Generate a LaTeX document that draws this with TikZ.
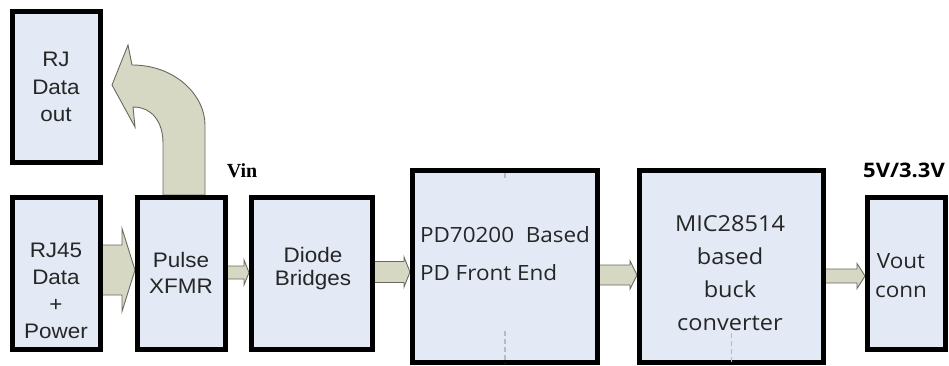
\documentclass[tikz,border=0pt]{standalone}
\usepackage{fontspec}
\usetikzlibrary{calc,backgrounds}
\newfontfamily\fA{Liberation Sans}[FakeStretch=1.07]
\newfontfamily\fB{Open Sans}[FakeStretch=1.07]
\newfontfamily\fC{Open Sans}[FakeStretch=1.1]
\newfontfamily\fT{Liberation Serif}
\definecolor{boxfill}{RGB}{227,234,245}
\definecolor{arrowfill}{RGB}{214,216,196}
\definecolor{arrowline}{RGB}{105,105,95}
\definecolor{ghostline}{RGB}{185,185,190}
\tikzset{
  blockbox/.style={draw=black, line width=5pt, fill=boxfill, inner sep=0pt, outer sep=0pt},
  flowarrow/.style={fill=arrowfill, draw=arrowline, line width=0.9pt, line join=miter},
  lbl/.style={inner sep=0pt, outer sep=0pt, text=black!85},
  ghost/.style={draw=ghostline, line width=1.2pt, dash pattern=on 5pt off 3pt},
}
\newcommand\blockarrow[6]{% from, to, y, half body, half head, head length
  \path (#1.east |- 0,#3) coordinate (ba-s) (#2.west |- 0,#3) coordinate (ba-t);
  \draw[flowarrow] ($(ba-s)+(0,-#4)$) -- ($(ba-t)+(-2.5-#6,-#4)$) -- ($(ba-t)+(-2.5-#6,-#5)$)
    -- ($(ba-t)+(-2.5,0)$) -- ($(ba-t)+(-2.5-#6,#5)$) -- ($(ba-t)+(-2.5-#6,#4)$)
    -- ($(ba-s)+(0,#4)$) -- cycle;}
\begin{document}
\begin{tikzpicture}[x=1pt,y=-1pt]
\useasboundingbox (0,0) rectangle (949,366);

% boxes
\node[blockbox, minimum width=88pt, minimum height=151pt] (rjout) at (56.5,87) {};
\node[blockbox, minimum width=88pt, minimum height=152pt] (rj45) at (56.5,273.5) {};
\node[blockbox, minimum width=88pt, minimum height=152pt] (pulse) at (181.5,273.5) {};
\node[blockbox, minimum width=121pt, minimum height=152pt] (diode) at (312,273.5) {};
\node[blockbox, minimum width=185pt, minimum height=192pt] (pd) at (505,266.5) {};
\node[blockbox, minimum width=184pt, minimum height=192pt] (mic) at (731.5,266.5) {};
\node[blockbox, minimum width=78pt, minimum height=152pt] (vout) at (906.5,273.5) {};

% texts (base = baseline of last line)
\node[lbl, anchor=base, align=center, font={\fA\fontsize{21}{27.5}\selectfont}] (trjout) at (56,122) {RJ\\Data\\out};
\node[lbl, anchor=base, align=center, font={\fA\fontsize{21}{27}\selectfont}] (trj45) at (56,338) {RJ45\\Data\\+\\Power};
\node[lbl, anchor=base, align=center, font={\fA\fontsize{21}{26}\selectfont}] (tpulse) at (181,293) {Pulse\\XFMR};
\node[lbl, anchor=base, align=center, font={\fA\fontsize{21}{23}\selectfont}] (tdiode) at (313,285) {Diode\\Bridges};
\node[lbl, anchor=base west, align=left, font={\fB\fontsize{21}{38}\selectfont}] (tpd) at (420,280) {PD70200\ \ Based\\PD Front End};
\node[lbl, anchor=base, align=center, font={\fB\fontsize{22}{32.7}\selectfont}] (tmic) at (730,330) {MIC28514\\based\\buck\\converter};
\node[lbl, anchor=base, align=center, font={\fB\fontsize{21}{29}\selectfont}] (tvout) at (901,297) {Vout\\conn};

\node[lbl, anchor=base, font={\fT\bfseries\fontsize{20}{24}\selectfont}, text=black] (vin) at (242,178) {Vin};
\node[lbl, anchor=base, font={\fC\bfseries\fontsize{20}{24}\selectfont}, text=black] (vo) at (904,178) {5V/3.3V};

% faint dashed marks
\draw[ghost] ($(pd.south)+(0,-32)$) -- (pd.south);
\draw[ghost] ($(pd.north)+(0,2)$) -- ($(pd.north)+(0,10)$);
\draw[ghost] ($(mic.south)+(0,-30)$) -- (mic.south);

% arrows
\begin{scope}[on background layer]
  \fill[white] (0,0) rectangle (949,366);
  \blockarrow{rj45}{pulse}{270}{25}{41.5}{13}
  \blockarrow{pulse}{diode}{272.5}{6.5}{12.5}{5}
  \blockarrow{diode}{pd}{272}{10.5}{15}{6}
  \blockarrow{pd}{mic}{275}{10}{14}{7}
  \blockarrow{mic}{vout}{276}{7}{12.5}{8}
  \draw[flowarrow] (163,195) -- (163,143) .. controls (163,122) and (152,107) .. (133,107)
    -- (135,127) -- (112,85) -- (128,45) -- (132,65)
    .. controls (175,65) and (205,95) .. (205,125) -- (205,195) -- cycle;
\end{scope}
\end{tikzpicture}
\end{document}
